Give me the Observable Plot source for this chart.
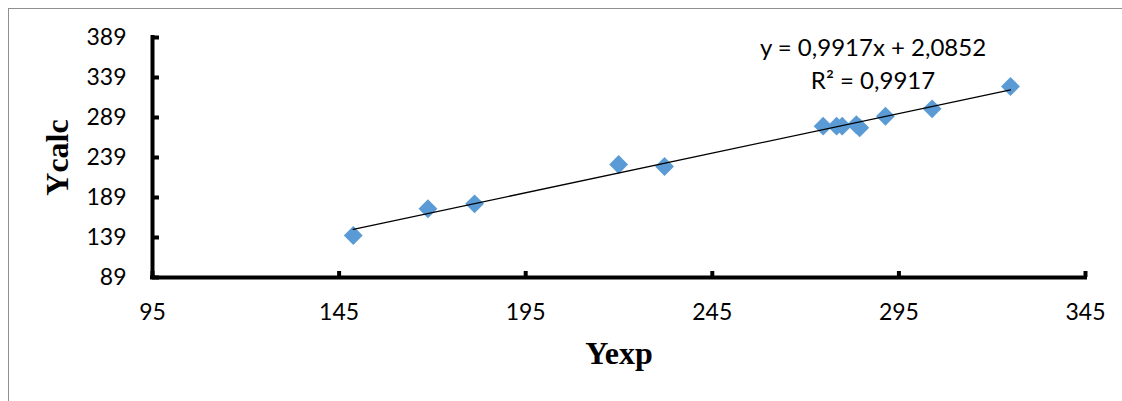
<!DOCTYPE html>
<html>
<head>
<meta charset="utf-8">
<script src="https://cdn.jsdelivr.net/npm/d3@7"></script>
<script src="https://cdn.jsdelivr.net/npm/@observablehq/plot@0.6"></script>
<style>
  html, body { margin: 0; padding: 0; background: #fff; overflow: hidden; }
  #wrap { position: relative; width: 1122px; height: 401px; }
  #box { position: absolute; left: 8px; top: 8px; width: 1300px; height: 600px;
         border-left: 1px solid #8f8f8f; border-top: 1px solid #8f8f8f; pointer-events: none; }
</style>
</head>
<body>
<div id="wrap"><div id="box"></div></div>
<script>
// Data
const yExp  = [148.8, 168.8, 181.3, 219.9, 232.2, 274.7, 278.3, 279.8, 283.6, 284.5, 291.4, 303.9, 324.9];
const yCalc = [141.5, 174.9, 181.1, 230.3, 227.8, 278.2, 278.2, 278.2, 279.9, 276.2, 290.6, 299.8, 327.8];
const xTicks = [95, 145, 195, 245, 295, 345];
const yTicks = [89, 139, 189, 239, 289, 339, 389];
const xTitle = "Yexp";
const yTitle = "Ycalc";
const equationLines = ["y = 0,9917x + 2,0852", "R² = 0,9917"];

const points = yExp.map((x, i) => ({x, y: yCalc[i]}));

const chart = Plot.plot({
  width: 1122,
  height: 401,
  marginLeft: 152,
  marginRight: 37,
  marginTop: 37,
  marginBottom: 124,
  style: {fontFamily: "Lato, 'Open Sans', sans-serif", fontSize: "23px", color: "black", background: "transparent", overflow: "visible"},
  x: {domain: [95, 345]},
  y: {domain: [89, 389]},
  marks: [
    Plot.axisX({ticks: xTicks, tickSize: -6, tickPadding: 32, strokeWidth: 4, label: null, tickFormat: d => String(d)}),
    Plot.axisY({ticks: yTicks, tickSize: -7, tickPadding: 33, strokeWidth: 4, label: null, tickFormat: d => String(d)}),
    Plot.ruleX([95], {y1: 89, y2: 389, stroke: "black", strokeWidth: 4, strokeLinecap: "square"}),
    Plot.ruleY([89], {x1: 95, x2: 345, stroke: "black", strokeWidth: 4, strokeLinecap: "square"}),
    Plot.dot(points, {x: "x", y: "y", symbol: "diamond2", r: 8.5, fill: "#5B9BD5", stroke: "none"}),
    Plot.linearRegressionY(points, {x: "x", y: "y", ci: 0, stroke: "black", strokeWidth: 1.3}),
    Plot.text([equationLines.join("\n")], {frameAnchor: "top", textAnchor: "middle", dx: 254, dy: -5, lineAnchor: "top", lineHeight: 1.38, text: d => d, fontSize: 24, fill: "black"}),
    Plot.text([xTitle], {frameAnchor: "bottom", textAnchor: "middle", dy: 76, lineAnchor: "middle", text: d => d, fontFamily: "'Liberation Serif', 'Times New Roman', serif", fontWeight: "bold", fontSize: 32, fill: "black"}),
    Plot.text([yTitle], {frameAnchor: "left", textAnchor: "middle", dx: -95, rotate: -90, lineAnchor: "middle", text: d => d, fontFamily: "'Liberation Serif', 'Times New Roman', serif", fontWeight: "bold", fontSize: 32, fill: "black"})
  ]
});
chart.style.position = "absolute";
chart.style.left = "0px";
chart.style.top = "0px";
document.getElementById("wrap").insertBefore(chart, document.getElementById("box"));
</script>
</body>
</html>
